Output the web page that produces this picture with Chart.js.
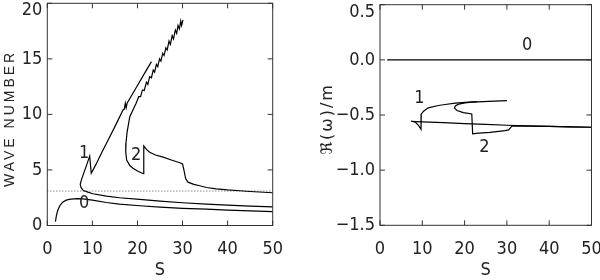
<!DOCTYPE html>
<html>
<head>
<meta charset="utf-8">
<script src="https://cdn.jsdelivr.net/npm/chart.js@4.4.1/dist/chart.umd.min.js"></script>
<style>
body { margin: 0; background: #fff; }
#wrap { position: relative; width: 600px; height: 280px; }
.box { position: absolute; top: 0; width: 300px; height: 280px; }
</style>
</head>
<body>
<div id="wrap">
  <div class="box" style="left:0"><canvas id="waveChart" width="300" height="280"></canvas></div>
  <div class="box" style="left:300px"><canvas id="freqChart" width="300" height="280"></canvas></div>
</div>
<script>
// ---- left panel: wave number vs S ----
var sTicks = [0, 10, 20, 30, 40, 50];
var waveTicks = [0, 5, 10, 15, 20];

var wave0S = [1.8, 2.0, 2.3, 2.8, 3.4, 4.2, 4.9, 5.8, 6.8, 7.9, 10.0, 13.1, 16.0, 20.5, 25.0, 30.0, 35.3, 40.0, 45.0, 50.0];
var wave0K = [0.35, 0.85, 1.35, 1.8, 2.1, 2.28, 2.35, 2.39, 2.41, 2.4, 2.29, 2.07, 1.93, 1.78, 1.65, 1.55, 1.47, 1.39, 1.32, 1.25];

var wave1S = [23.1, 21.5, 20.0, 18.5, 17.7, 17.5, 17.3, 17.1, 16.8, 15.0, 13.5, 12.0, 10.8, 9.75, 9.4, 8.6, 7.6, 7.3,
              7.5, 8.0, 9.0, 10.1, 13.1, 16.0, 20.5, 25.0, 30.0, 35.3, 40.0, 45.0, 50.0];
var wave1K = [14.75, 13.65, 12.6, 11.57, 11.0, 10.6, 11.0, 10.5, 10.4, 8.9, 7.7, 6.5, 5.5, 4.7, 6.25, 5.3, 4.15, 3.7,
              3.4, 3.15, 3.0, 2.86, 2.65, 2.5, 2.35, 2.2, 2.05, 1.92, 1.83, 1.75, 1.68];

var wave2S = [30.1, 29.8, 29.6, 29.3, 29.0, 28.7, 28.4, 28.0, 27.7, 27.3, 27.0, 26.6, 26.3, 25.9, 25.6, 25.2, 24.9,
              24.5, 24.2, 23.8, 23.5, 23.1, 22.7, 22.3, 22.0, 21.5, 21.1, 20.7, 20.3, 19.7,
              18.3, 17.7, 17.45, 17.4, 17.6, 18.3, 19.0, 20.0, 21.3,
              21.4, 22.0, 22.7, 24.0, 25.7, 27.5, 29.4, 30.0, 30.3, 30.7, 31.2, 32.5, 33.8, 35.3, 37.5, 40.0, 42.7, 45.0, 50.0];
var wave2K = [18.5, 18.0, 18.4, 17.7, 18.0, 17.3, 17.6, 16.8, 17.1, 16.3, 16.6, 15.8, 16.0, 15.3, 15.5, 14.8, 15.0,
              14.3, 14.5, 13.8, 14.0, 13.3, 13.4, 12.7, 12.9, 12.15, 12.2, 11.6, 11.6, 11.0,
              9.8, 8.4, 7.4, 6.6, 5.9, 5.4, 5.15, 4.9, 4.66,
              7.15, 6.85, 6.6, 6.35, 6.15, 5.9, 5.65, 5.55, 5.0, 4.2, 3.9, 3.7, 3.58, 3.42, 3.3, 3.2, 3.13, 3.06, 2.95];

var dottedS = [0, 50];
var dottedK = [3.1, 3.1];

var waveLabelText = ['0', '1', '2'];
var waveLabelS = [8.2, 8.2, 19.7];
var waveLabelK = [1.96, 6.47, 6.3];

// ---- right panel: Re(omega)/m vs S ----
var freqTicks = [-1.5, -1.0, -0.5, 0.0, 0.5];

var freq0S = [1.7, 50];
var freq0R = [0, 0];

var freq1S = [23.0, 20.1, 17.8, 15.4, 13.8, 11.4, 10.3, 9.75, 9.7, 9.5, 9.0, 8.3, 7.35,
              10.0, 15.0, 20.0, 25.0, 30.0, 35.0, 40.0, 45.0, 50.0];
var freq1R = [-0.378, -0.385, -0.392, -0.405, -0.414, -0.435, -0.466, -0.49, -0.63, -0.617, -0.59, -0.565, -0.557,
              -0.562, -0.57, -0.578, -0.585, -0.593, -0.598, -0.603, -0.607, -0.611];

var freq2S = [30.0, 25.7, 21.7, 20.1, 18.6, 17.8, 17.6, 18.2, 19.7, 21.7, 21.9, 23.3, 26.0, 29.6, 30.4, 31.2, 35.0, 40.0, 45.0, 50.0];
var freq2R = [-0.369, -0.376, -0.384, -0.39, -0.402, -0.418, -0.438, -0.459, -0.478, -0.49, -0.671, -0.665, -0.657, -0.641, -0.635, -0.6, -0.6, -0.604, -0.607, -0.611];

var freqLabelText = ['0', '1', '2'];
var freqLabelS = [34.8, 9.3, 24.7];
var freqLabelR = [0.13, -0.35, -0.79];

var narrow = '"Liberation Sans Narrow", "DejaVu Sans Condensed", "Liberation Sans", sans-serif';
var ink = '#222';

function pts(xs, ys) {
    return xs.map(function (x, i) { return { x: x, y: ys[i] }; });
}

function curve(xs, ys) {
    return { data: pts(xs, ys), showLine: true, pointRadius: 0, borderColor: '#000', borderWidth: 1.2, tension: 0 };
}

// frame with inward ticks, axis titles and curve numbers
var framePlugin = {
    id: 'frame',
    afterDatasetsDraw: function (chart, args, opts) {
        var a = chart.chartArea, c = chart.ctx, xs = chart.scales.x, ys = chart.scales.y;
        c.save();
        c.strokeStyle = '#333';
        c.lineWidth = 1;
        c.strokeRect(a.left, a.top, a.right - a.left, a.bottom - a.top);
        c.beginPath();
        xs.ticks.forEach(function (t) {
            var p = xs.getPixelForValue(t.value);
            c.moveTo(p, a.bottom); c.lineTo(p, a.bottom - 5);
            c.moveTo(p, a.top); c.lineTo(p, a.top + 5);
        });
        ys.ticks.forEach(function (t) {
            var p = ys.getPixelForValue(t.value);
            c.moveTo(a.left, p); c.lineTo(a.left + 5, p);
            c.moveTo(a.right, p); c.lineTo(a.right - 5, p);
        });
        c.stroke();

        c.fillStyle = ink;
        c.textAlign = 'center';
        c.textBaseline = 'middle';
        c.font = '18px ' + narrow;
        opts.text.forEach(function (t, i) {
            c.fillText(t, xs.getPixelForValue(opts.xs[i]), ys.getPixelForValue(opts.ys[i]));
        });
        c.fillText('S', (a.left + a.right) / 2, 270);

        c.font = opts.yFont;
        c.letterSpacing = opts.ySpacing;
        c.translate(opts.yTitleX, (a.top + a.bottom) / 2 + 4);
        c.rotate(-Math.PI / 2);
        c.fillText(opts.yTitle, 0, 0);
        c.restore();
    }
};

function makeScales(xTicks, yTicks, yMin, yMax, yFmt, yWidth, xHeight) {
    var last = yTicks.length - 1;
    return {
        x: {
            type: 'linear', min: 0, max: 50,
            afterBuildTicks: function (s) { s.ticks = xTicks.map(function (v) { return { value: v }; }); },
            afterFit: function (s) { s.height = xHeight; s.paddingLeft = 0; s.paddingRight = 0; },
            grid: { display: false, drawTicks: false },
            border: { display: false },
            ticks: { color: ink, padding: 13, maxRotation: 0, font: { family: narrow, size: 18 } }
        },
        y: {
            type: 'linear', min: yMin, max: yMax,
            afterBuildTicks: function (s) { s.ticks = yTicks.map(function (v) { return { value: v }; }); },
            afterFit: function (s) { s.width = yWidth; s.paddingTop = 0; s.paddingBottom = 0; },
            grid: { display: false, drawTicks: false },
            border: { display: false },
            ticks: {
                color: ink, padding: 5,
                font: function (ctx) { return { family: narrow, size: 18, lineHeight: ctx.index === last ? 0.8 : 1.2 }; },
                callback: function (v, i) { return i === last ? ['', yFmt(v)] : yFmt(v); }
            }
        }
    };
}

new Chart(document.getElementById('waveChart'), {
    type: 'scatter',
    data: {
        datasets: [
            curve(wave0S, wave0K),
            curve(wave1S, wave1K),
            curve(wave2S, wave2K),
            { data: pts(dottedS, dottedK), showLine: true, pointRadius: 0, borderColor: '#555', borderWidth: 1, borderDash: [1, 2] }
        ]
    },
    options: {
        responsive: false,
        animation: false,
        layout: { padding: { top: 3.3, right: 27.3, bottom: 0, left: 0 } },
        plugins: {
            legend: { display: false },
            tooltip: { enabled: false },
            frame: { text: waveLabelText, xs: waveLabelS, ys: waveLabelK, yTitle: 'WAVE NUMBER', yTitleX: 10, yFont: '14px "Liberation Sans", sans-serif', ySpacing: '3px' }
        },
        scales: makeScales(sTicks, waveTicks, 0, 20, function (v) { return String(v); }, 47.3, 54.5)
    },
    plugins: [framePlugin]
});

new Chart(document.getElementById('freqChart'), {
    type: 'scatter',
    data: {
        datasets: [
            curve(freq0S, freq0R),
            curve(freq1S, freq1R),
            curve(freq2S, freq2R)
        ]
    },
    options: {
        responsive: false,
        animation: false,
        layout: { padding: { top: 4.7, right: 8.5, bottom: 0, left: 0 } },
        plugins: {
            legend: { display: false },
            tooltip: { enabled: false },
            frame: { text: freqLabelText, xs: freqLabelS, ys: freqLabelR, yTitle: '\u211C(\u03C9)/m', yTitleX: 28, yFont: '16px "DejaVu Sans", sans-serif', ySpacing: '2px' }
        },
        scales: makeScales(sTicks, freqTicks, -1.5, 0.5, function (v) { return v.toFixed(1).replace('-', '\u2212'); }, 80, 54.7)
    },
    plugins: [framePlugin]
});
</script>
</body>
</html>
